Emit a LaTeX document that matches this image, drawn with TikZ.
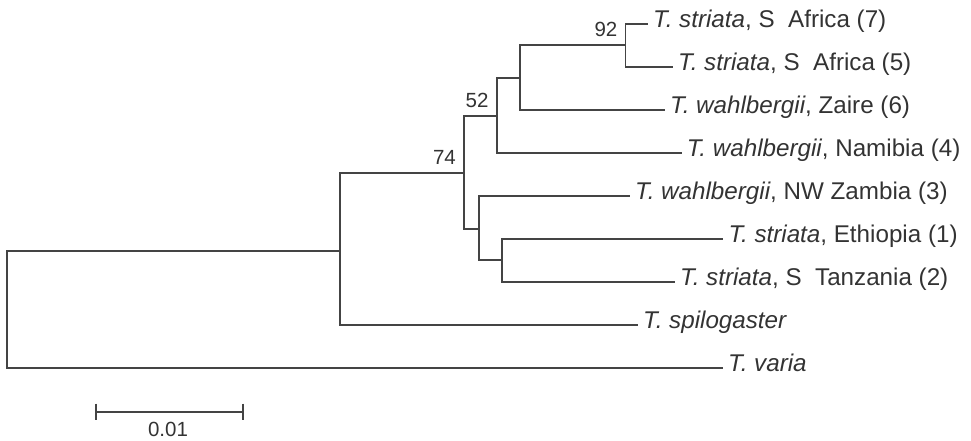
\documentclass[tikz,border=0pt]{standalone}
\usepackage{fontspec}
\setmainfont{Liberation Sans}
\definecolor{branch}{RGB}{68,68,68}
\definecolor{txt}{RGB}{51,51,51}
\tikzset{
  br/.style={draw=branch, line width=1.8pt, line join=miter},
  leaf/.style={anchor=base west, inner sep=0pt, xshift=5pt, yshift=-3.5pt, text=txt, font=\fontsize{24.2}{28}\selectfont},
  boot/.style={anchor=base east, inner sep=0pt, xshift=-8pt, yshift=8.5pt, text=txt, font=\fontsize{20.5}{24}\selectfont},
  scalelab/.style={anchor=base, inner sep=0pt, text=txt, font=\fontsize{20.5}{24}\selectfont}
}
\begin{document}
\begin{tikzpicture}[x=1pt,y=-1pt]
\useasboundingbox (0,0) rectangle (971,440);
% internal nodes
\coordinate (R) at (6.7,309.5);
\coordinate (N1) at (340,250.7);
\coordinate (N74) at (464,172.7);
\coordinate (N52) at (496.7,115.7);
\coordinate (Nb) at (520,77.7);
\coordinate (N92) at (625.5,45);
\coordinate (Nc) at (478.7,229);
\coordinate (Nd) at (501.7,260);
% leaf ends
\coordinate (l7) at (648,24.3);
\coordinate (l5) at (673,66.7);
\coordinate (l6) at (665,110);
\coordinate (l4) at (681.7,153.3);
\coordinate (l3) at (630,195.7);
\coordinate (l1) at (723.3,239.3);
\coordinate (l2) at (675,282.3);
\coordinate (lsp) at (638,325);
\coordinate (lva) at (723,368.3);
% branches
\draw[br] (R) |- (N1);
\draw[br] (R) |- (lva);
\draw[br] (N1) |- (N74);
\draw[br] (N1) |- (lsp);
\draw[br] (N74) |- (N52);
\draw[br] (N74) |- (Nc);
\draw[br] (N52) |- (Nb);
\draw[br] (N52) |- (l4);
\draw[br] (Nb) |- (N92);
\draw[br] (Nb) |- (l6);
\draw[br] (N92) |- (l7);
\draw[br] (N92) |- (l5);
\draw[br] (Nc) |- (l3);
\draw[br] (Nc) |- (Nd);
\draw[br] (Nd) |- (l1);
\draw[br] (Nd) |- (l2);
% leaf labels
\node[leaf] (t7) at (l7) {\textit{T. striata}, S~~Africa (7)};
\node[leaf] (t5) at (l5) {\textit{T. striata}, S~~Africa (5)};
\node[leaf] (t6) at (l6) {\textit{T. wahlbergii}, Zaire (6)};
\node[leaf] (t4) at (l4) {\textit{T. wahlbergii}, Namibia (4)};
\node[leaf] (t3) at (l3) {\textit{T. wahlbergii}, NW Zambia (3)};
\node[leaf] (t1) at (l1) {\textit{T. striata}, Ethiopia (1)};
\node[leaf] (t2) at (l2) {\textit{T. striata}, S~~Tanzania (2)};
\node[leaf] (tsp) at (lsp) {\textit{T. spilogaster}};
\node[leaf] (tva) at (lva) {\textit{T. varia}};
% bootstrap values
\node[boot] (b92) at (N92) {92};
\node[boot] (b52) at (N52) {52};
\node[boot] (b74) at (N74) {74};
% scale bar
\coordinate (s1) at (96,411.7);
\coordinate (s2) at (243,411.7);
\draw[br] (s1) -- (s2);
\draw[br] ([yshift=8pt]s1) -- ([yshift=-8pt]s1);
\draw[br] ([yshift=8pt]s2) -- ([yshift=-8pt]s2);
\node[scalelab] (sl) at (168,436.5) {0.01};
\end{tikzpicture}
\end{document}
